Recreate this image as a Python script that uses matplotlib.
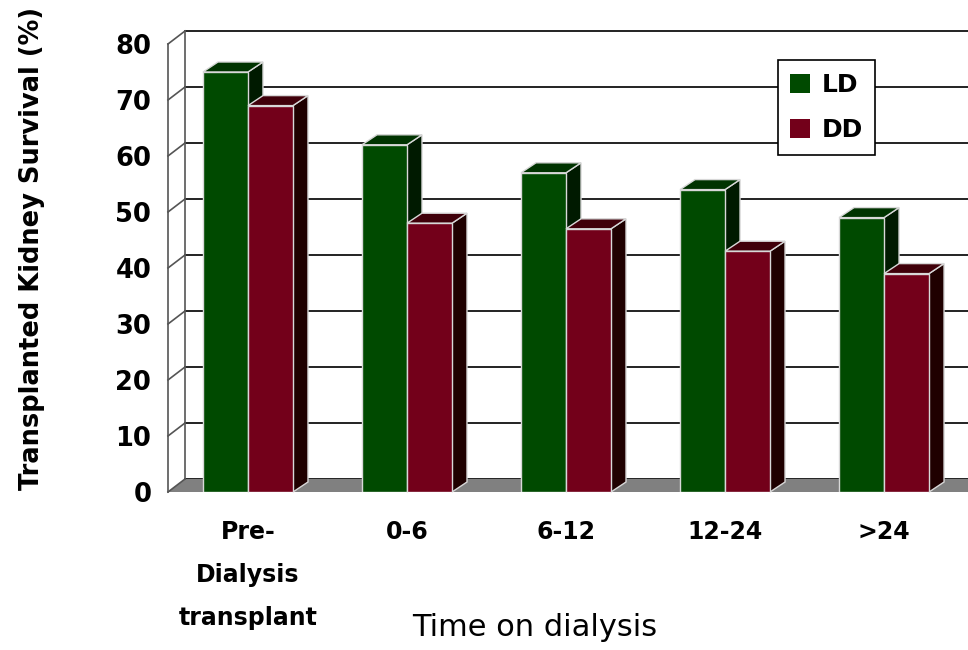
import matplotlib.pyplot as plt
from matplotlib.patches import Polygon, Patch

categories = ["Pre-\nDialysis\ntransplant", "0-6", "6-12", "12-24", ">24"]
ld_values = [75, 62, 57, 54, 49]
dd_values = [69, 48, 47, 43, 39]
y_ticks = [0, 10, 20, 30, 40, 50, 60, 70, 80]
series = ["LD", "DD"]

# front / side / top shades for the fake 3D bars
ld_colors = ("#004a00", "#001a00", "#003300")
dd_colors = ("#73001a", "#1f0000", "#40000a")

W, H = 968, 650
fig = plt.figure(figsize=(W / 100, H / 100), dpi=100)
ax = fig.add_axes([168 / W, (H - 492) / H, 800 / W, 448 / H])
xmin, xmax = -0.503, 4.528
ax.set_xlim(xmin, xmax)
ax.set_ylim(0, 80)
for s in ax.spines.values():
    s.set_visible(False)

px_x = 800 / (xmax - xmin)
px_y = 448 / 80
wdx, wdy = 17 / px_x, 13 / px_y   # wall depth
bdx, bdy = 15 / px_x, 10 / px_y   # bar depth
bw = 45 / px_x

# back wall grid
for v in y_ticks:
    ax.plot([xmin + wdx, xmax + 0.2], [v + wdy, v + wdy], color="#222222",
            lw=1.4, clip_on=False, zorder=1)

# left wall
wall = dict(color="#555555", lw=1.2, clip_on=False, zorder=2)
ax.plot([xmin, xmin], [0, 80], **wall)
ax.plot([xmin + wdx, xmin + wdx], [wdy, 80 + wdy], **wall)
for v in y_ticks:
    ax.plot([xmin, xmin + wdx], [v, v + wdy], **wall)

# floor
ax.add_patch(Polygon([(xmin, 0), (xmax + 0.2, 0), (xmax + 0.2, wdy),
                      (xmin + wdx, wdy)], closed=True, facecolor="#808080",
                     edgecolor="none", clip_on=False, zorder=1.5))


def bar3d(x, v, cols, z):
    front, side, top = cols
    ec = "#d8d8d8"
    ax.bar(x, v, width=bw, color=front, edgecolor=ec, lw=1, zorder=z + 0.2)
    r, l = x + bw / 2, x - bw / 2
    ax.add_patch(Polygon([(r, 0), (r + bdx, bdy), (r + bdx, v + bdy), (r, v)],
                         facecolor=side, edgecolor=ec, lw=1, zorder=z,
                         clip_on=False))
    ax.add_patch(Polygon([(l, v), (r, v), (r + bdx, v + bdy), (l + bdx, v + bdy)],
                         facecolor=top, edgecolor=ec, lw=1, zorder=z + 0.1,
                         clip_on=False))


for i in range(len(categories)):
    bar3d(i - bw / 2, ld_values[i], ld_colors, 3)
    bar3d(i + bw / 2, dd_values[i], dd_colors, 4)

ax.set_yticks(y_ticks)
ax.set_yticklabels([str(t) for t in y_ticks], fontsize=18.5, fontweight="bold")
ax.set_xticks(range(len(categories)))
ax.set_xticklabels(categories, fontsize=17, fontweight="bold", linespacing=2.0)
ax.tick_params(axis="y", length=0, pad=12)
ax.tick_params(axis="x", length=0, pad=20)

handles = [Patch(facecolor=ld_colors[0], edgecolor="none"),
           Patch(facecolor=dd_colors[0], edgecolor="none")]
leg = ax.legend(handles, series, loc="center", bbox_to_anchor=(826.5 / W, 1 - 107.5 / H),
                bbox_transform=fig.transFigure, fancybox=False, framealpha=1,
                edgecolor="black", prop=dict(size=18, weight="bold"),
                handlelength=0.8, handleheight=0.8, labelspacing=0.85,
                handletextpad=0.45, borderpad=0.5)
leg.get_frame().set_linewidth(1.2)
leg.set_zorder(10)

fig.text(32 / W, 1 - 248 / H, "Transplanted Kidney Survival (%)", rotation=90,
         fontsize=18.5, fontweight="bold", ha="center", va="center")
fig.text(535 / W, 1 - 628 / H, "Time on dialysis", fontsize=22,
         ha="center", va="center")

plt.savefig("out.png", dpi=100)
